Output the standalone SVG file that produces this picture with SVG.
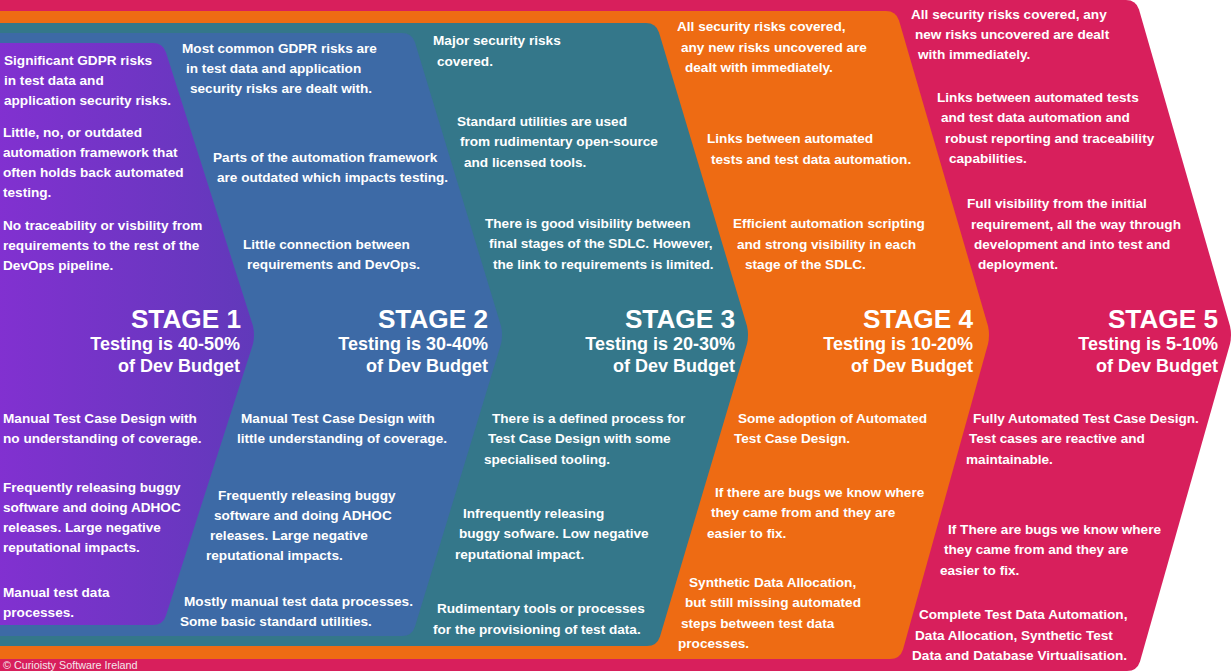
<svg xmlns="http://www.w3.org/2000/svg" width="1232" height="671" viewBox="0 0 1232 671">
<defs>
<linearGradient id="gPurple" x1="0" y1="0" x2="1" y2="0">
<stop offset="0" stop-color="#8430D2"/>
<stop offset="1" stop-color="#6139BA"/>
</linearGradient>
<style>
.t{font-family:"Liberation Sans",Arial,sans-serif;font-weight:bold;font-size:13.6px;fill:#ffffff}
.h{font-family:"Liberation Sans",Arial,sans-serif;font-weight:bold;font-size:26.2px;fill:#ffffff;text-anchor:end}
.s{font-family:"Liberation Sans",Arial,sans-serif;font-weight:bold;font-size:18px;fill:#ffffff;text-anchor:end}
.c{font-family:"Liberation Sans",Arial,sans-serif;font-size:10.8px;fill:#f4e6ec}
</style>
</defs>
<rect width="1232" height="671" fill="#ffffff"/>

<g id="stage5">
<path d="M -20 0 H 1126 Q 1136 0 1139 9.5 L 1230 326 Q 1232 335 1230 344 L 1140 661.5 Q 1137 671 1127 671 H -20 Z" fill="#D81F5C"/>
<text class="t" x="911" y="19">All security risks covered, any</text>
<text class="t" x="915" y="39">new risks uncovered are dealt</text>
<text class="t" x="918" y="59">with immediately.</text>
<text class="t" x="937" y="102">Links between automated tests</text>
<text class="t" x="941" y="122">and test data automation and</text>
<text class="t" x="945" y="143">robust reporting and traceability</text>
<text class="t" x="949" y="163">capabilities.</text>
<text class="t" x="967" y="208">Full visibility from the initial</text>
<text class="t" x="971" y="229">requirement, all the way through</text>
<text class="t" x="974" y="249">development and into test and</text>
<text class="t" x="978" y="269">deployment.</text>
<text class="h" x="1218" y="327.5">STAGE 5</text>
<text class="s" x="1218" y="350">Testing is 5-10%</text>
<text class="s" x="1218" y="372">of Dev Budget</text>
<text class="t" x="973" y="423">Fully Automated Test Case Design.</text>
<text class="t" x="969" y="443">Test cases are reactive and</text>
<text class="t" x="966" y="464">maintainable.</text>
<text class="t" x="948" y="534">If There are bugs we know where</text>
<text class="t" x="944" y="554">they came from and they are</text>
<text class="t" x="940" y="575">easier to fix.</text>
<text class="t" x="919" y="619">Complete Test Data Automation,</text>
<text class="t" x="915" y="640">Data Allocation, Synthetic Test</text>
<text class="t" x="912" y="660">Data and Database Virtualisation.</text>
</g>

<g id="stage4">
<path d="M -20 11 H 886 Q 896 11 899 20.5 L 988 326 Q 990 335 988 344 L 903 649.5 Q 900 659 890 659 H -20 Z" fill="#EE6B13"/>
<text class="t" x="677" y="31">All security risks covered,</text>
<text class="t" x="681" y="52">any new risks uncovered are</text>
<text class="t" x="685" y="72">dealt with immediately.</text>
<text class="t" x="707" y="143">Links between automated</text>
<text class="t" x="711" y="164">tests and test data automation.</text>
<text class="t" x="733" y="228">Efficient automation scripting</text>
<text class="t" x="737" y="249">and strong visibility in each</text>
<text class="t" x="745" y="269">stage of the SDLC.</text>
<text class="h" x="973" y="327.5">STAGE 4</text>
<text class="s" x="973" y="350">Testing is 10-20%</text>
<text class="s" x="973" y="372">of Dev Budget</text>
<text class="t" x="738" y="423">Some adoption of Automated</text>
<text class="t" x="734" y="443">Test Case Design.</text>
<text class="t" x="715" y="497">If there are bugs we know where</text>
<text class="t" x="711" y="517">they came from and they are</text>
<text class="t" x="707" y="538">easier to fix.</text>
<text class="t" x="689" y="587">Synthetic Data Allocation,</text>
<text class="t" x="685" y="607">but still missing automated</text>
<text class="t" x="681" y="628">steps between test data</text>
<text class="t" x="678" y="648">processes.</text>
</g>

<g id="stage3">
<path d="M -20 23 H 646 Q 656 23 659 32.5 L 747 326 Q 749 335 747 344 L 660 636.5 Q 657 646 647 646 H -20 Z" fill="#34778A"/>
<text class="t" x="433" y="45">Major security risks</text>
<text class="t" x="437" y="66">covered.</text>
<text class="t" x="457" y="126">Standard utilities are used</text>
<text class="t" x="460" y="146">from rudimentary open-source</text>
<text class="t" x="464" y="167">and licensed tools.</text>
<text class="t" x="485" y="228">There is good visibility between</text>
<text class="t" x="489" y="248">final stages of the SDLC. However,</text>
<text class="t" x="493" y="269">the link to requirements is limited.</text>
<text class="h" x="735" y="327.5">STAGE 3</text>
<text class="s" x="735" y="350">Testing is 20-30%</text>
<text class="s" x="735" y="372">of Dev Budget</text>
<text class="t" x="492" y="423">There is a defined process for</text>
<text class="t" x="488" y="443">Test Case Design with some</text>
<text class="t" x="484" y="464">specialised tooling.</text>
<text class="t" x="463" y="518">Infrequently releasing</text>
<text class="t" x="459" y="538">buggy sofware. Low negative</text>
<text class="t" x="455" y="559">reputational impact.</text>
<text class="t" x="437" y="613">Rudimentary tools or processes</text>
<text class="t" x="433" y="634">for the provisioning of test data.</text>
</g>

<g id="stage2">
<path d="M -20 33 H 402 Q 412 33 415 42.5 L 501 326 Q 503 335 501 344 L 415 626.5 Q 412 636 402 636 H -20 Z" fill="#3D6AA6"/>
<text class="t" x="182" y="53">Most common GDPR risks are</text>
<text class="t" x="186" y="73">in test data and application</text>
<text class="t" x="190" y="93">security risks are dealt with.</text>
<text class="t" x="213" y="162">Parts of the automation framework</text>
<text class="t" x="217" y="182">are outdated which impacts testing.</text>
<text class="t" x="243" y="249">Little connection between</text>
<text class="t" x="247" y="269">requirements and DevOps.</text>
<text class="h" x="488" y="327.5">STAGE 2</text>
<text class="s" x="488" y="350">Testing is 30-40%</text>
<text class="s" x="488" y="372">of Dev Budget</text>
<text class="t" x="241" y="423">Manual Test Case Design with</text>
<text class="t" x="237" y="443">little understanding of coverage.</text>
<text class="t" x="218" y="500">Frequently releasing buggy</text>
<text class="t" x="214" y="520">software and doing ADHOC</text>
<text class="t" x="210" y="540">releases. Large negative</text>
<text class="t" x="206" y="560">reputational impacts.</text>
<text class="t" x="184" y="606">Mostly manual test data processes.</text>
<text class="t" x="180" y="626">Some basic standard utilities.</text>
</g>

<g id="stage1">
<path d="M -20 43 H 153 Q 163 43 166 52.5 L 253 326 Q 255 335 253 344 L 166 615.5 Q 163 625 153 625 H -20 Z" fill="url(#gPurple)"/>
<text class="t" x="4" y="65">Significant GDPR risks</text>
<text class="t" x="4" y="85">in test data and</text>
<text class="t" x="4" y="105">application security risks.</text>
<text class="t" x="3" y="137">Little, no, or outdated</text>
<text class="t" x="3" y="157">automation framework that</text>
<text class="t" x="3" y="177">often holds back automated</text>
<text class="t" x="3" y="197">testing.</text>
<text class="t" x="3" y="230">No traceability or visbility from</text>
<text class="t" x="3" y="250">requirements to the rest of the</text>
<text class="t" x="3" y="270">DevOps pipeline.</text>
<text class="h" x="241" y="327.5">STAGE 1</text>
<text class="s" x="240" y="350">Testing is 40-50%</text>
<text class="s" x="240" y="372">of Dev Budget</text>
<text class="t" x="3" y="423">Manual Test Case Design with</text>
<text class="t" x="3" y="443">no understanding of coverage.</text>
<text class="t" x="3" y="492">Frequently releasing buggy</text>
<text class="t" x="3" y="512">software and doing ADHOC</text>
<text class="t" x="3" y="532">releases. Large negative</text>
<text class="t" x="3" y="552">reputational impacts.</text>
<text class="t" x="3" y="597">Manual test data</text>
<text class="t" x="3" y="617">processes.</text>
</g>

<g id="credit">
<text class="c" x="3" y="668.5">© Curioisty Software Ireland</text>
</g>
<g id="connectors"/>
</svg>
